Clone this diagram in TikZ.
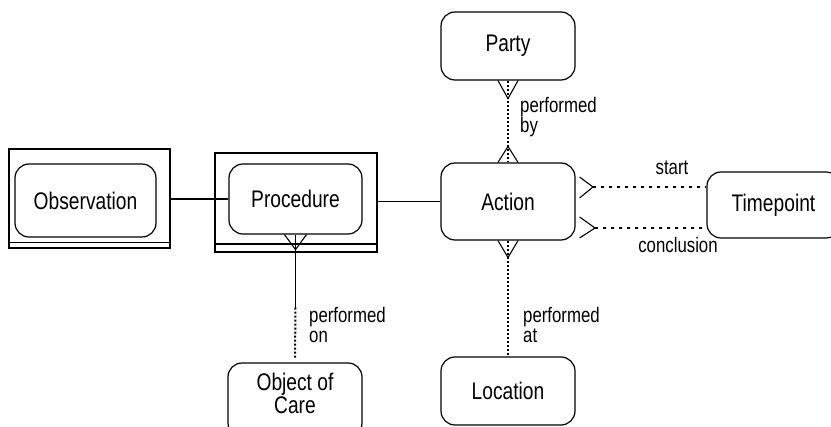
\documentclass[tikz,border=0pt]{standalone}
\usepackage{fontspec}
\setmainfont{Liberation Sans}[FakeStretch=0.8]
\usetikzlibrary{calc}
\newcommand{\bigf}{\fontsize{24}{26}\selectfont}
\newcommand{\smallf}{\fontsize{21}{20}\selectfont}
\begin{document}
\begin{tikzpicture}[x=1pt,y=-1pt,
  ent/.style={draw, rounded corners=14pt, line width=1.2pt, inner sep=0pt, font=\bigf, align=center},
  outerbox/.style={draw, line width=1.1pt, inner sep=0pt},
  lbl/.style={font=\smallf, inner sep=0pt, align=left},
  conn/.style={line width=1.1pt},
  dotv/.style={line width=2pt, dash pattern=on 2pt off 2pt},
  doth/.style={line width=2.5pt, dash pattern=on 2.5pt off 5.5pt}]
\useasboundingbox (0,0) rectangle (831,427);
% entities
\node[outerbox, minimum width=161pt, minimum height=99pt] (obsOuter) at (89.5,198.5) {};
\node[ent, minimum width=141pt, minimum height=73pt] (obs) at (85.5,200.5) {Observation};
\node[outerbox, minimum width=162pt, minimum height=99pt] (procOuter) at (296,202.5) {};
\node[ent, minimum width=133pt, minimum height=70pt] (proc) at (295.5,199) {Procedure};
\node[ent, minimum width=134pt, minimum height=68pt] (party) at (508,46) {Party};
\node[ent, minimum width=134pt, minimum height=77pt] (action) at (508,201.5) {Action};
\node[ent, minimum width=133pt, minimum height=66pt] (tp) at (773.5,205) {Timepoint};
\node[ent, minimum width=134pt, minimum height=68pt] (loc) at (508,391) {Location};
\node[ent, minimum width=134pt, minimum height=74pt] (ooc) at (295,400) {};
\node[font=\bigf, align=center, inner sep=0pt] (oocText) at (295,393) {Object of\\[-3pt]Care};
% double lines at bottom of outer boxes
\draw[conn] ($(obsOuter.south west)+(0,-6)$) -- ($(obsOuter.south east)+(0,-6)$);
\draw[conn] ($(procOuter.south west)+(0,-8.5)$) -- ($(procOuter.south east)+(0,-8.5)$);
% solid connectors
\draw[conn] (obsOuter.east |- proc.west) -- (proc.west);
\draw[conn] (action.west) -- (action.west -| procOuter.east);
% procedure -> object of care
\coordinate (pocMid) at ($(proc.south)+(0,73)$);
\draw[conn] (proc.south) -- (pocMid);
\draw[conn] ($(proc.south)+(-11,0)$) -- ($(proc.south)+(0,15)$) -- ($(proc.south)+(11,0)$);
\draw[dotv] (pocMid) -- ($(ooc.north)+(0,-4)$);
% party - action
\draw[dotv] (party.south) -- (action.north);
\draw[conn] ($(party.south)+(-10,0)$) -- ($(party.south)+(0,18)$) -- ($(party.south)+(10,0)$);
\draw[conn] ($(action.north)+(-10,0)$) -- ($(action.north)+(0,-16)$) -- ($(action.north)+(10,0)$);
% action - location
\draw[dotv] (action.south) -- ($(loc.north)+(0,-1)$);
\draw[conn] ($(action.south)+(-10,0)$) -- ($(action.south)+(0,17)$) -- ($(action.south)+(10,0)$);
% action - timepoint
\coordinate (sV) at (593,187);
\coordinate (cV) at (595,228);
\draw[conn] ($(action.east)+(4,-24.5)$) -- (sV) -- ($(action.east)+(4,-3.5)$);
\draw[doth] (sV) -- (sV -| tp.west);
\draw[conn] ($(action.east)+(4,15.5)$) -- (cV) -- ($(action.east)+(4,36.5)$);
\draw[doth] (cV) -- (cV -| tp.west);
% labels
\node[lbl, anchor=west] (lblBy) at (520,117) {performed\\by};
\node[lbl, anchor=west] (lblOn) at (309,325) {performed\\on};
\node[lbl, anchor=west] (lblAt) at (523,325) {performed\\at};
\node[lbl] (lblStart) at (672,168) {start};
\node[lbl] (lblConc) at (678,245) {conclusion};
\end{tikzpicture}
\end{document}
